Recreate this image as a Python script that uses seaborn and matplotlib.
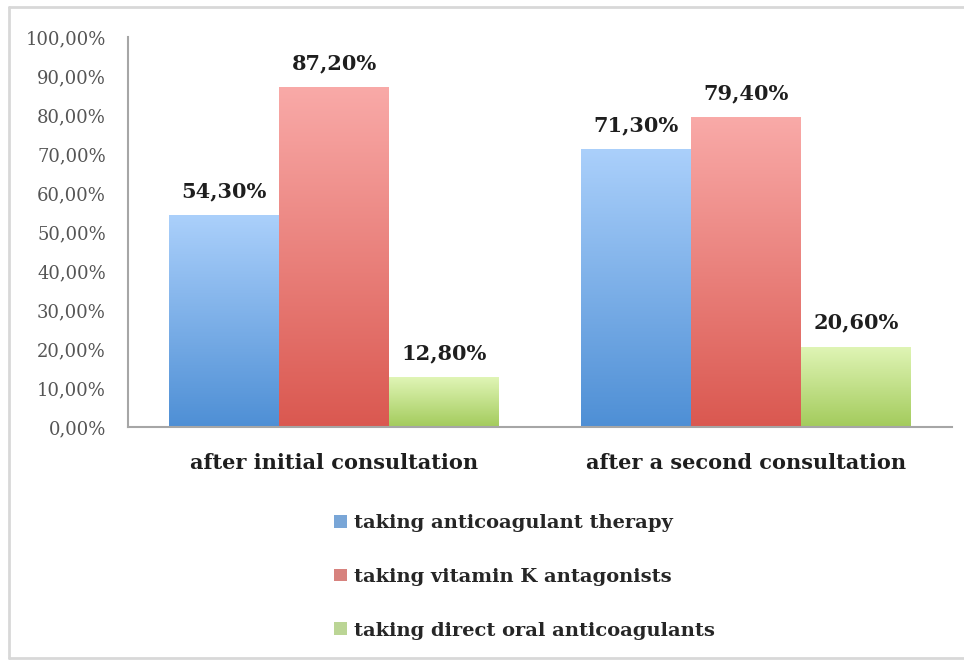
import numpy as np
import pandas as pd
import matplotlib
matplotlib.use("Agg")
import matplotlib.pyplot as plt
from matplotlib.colors import LinearSegmentedColormap
from matplotlib.lines import Line2D
import seaborn as sns

# dati
momenti = ["after initial consultation", "after a second consultation"]
gruppi = ["taking anticoagulant therapy",
          "taking vitamin K antagonists",
          "taking direct oral anticoagulants"]
anticoag = [54.3, 71.3]
vka = [87.2, 79.4]
doac = [12.8, 20.6]

# colori (medio, alto, basso) per i gradienti
colori_medi = ["#6aa5e6", "#e6756f", "#bde08a"]
colori_alto = ["#abd0fb", "#f9aaa8", "#e0f5b6"]
colori_basso = ["#4e8fd5", "#da5850", "#a3cb5c"]

df = pd.DataFrame({
    "momento": momenti * 3,
    "gruppo": [g for g in gruppi for _ in momenti],
    "valore": anticoag + vka + doac,
})

sns.set_theme(style="white")
plt.rcParams["font.family"] = ["DejaVu Serif"]

fig = plt.figure(figsize=(9.64, 6.6), dpi=100)
ax = fig.add_axes([0.1328, 0.353, 0.855, 0.591])

sns.barplot(data=df, x="momento", y="valore", hue="gruppo",
            order=momenti, hue_order=gruppi, palette=colori_medi,
            errorbar=None, linewidth=0, width=0.8, ax=ax)

# riempimento a gradiente verticale dentro ogni barra
grad = np.linspace(0, 1, 256).reshape(-1, 1)
for cont, alto, basso in zip(ax.containers, colori_alto, colori_basso):
    cmap = LinearSegmentedColormap.from_list("g", [basso, alto])
    for barra in cont:
        x0, y0 = barra.get_x(), barra.get_y()
        w, h = barra.get_width(), barra.get_height()
        im = ax.imshow(grad, cmap=cmap, origin="lower", aspect="auto",
                       extent=[x0, x0 + w, y0, y0 + h], zorder=barra.get_zorder() + 0.1)
        im.set_clip_path(barra)
    ax.bar_label(cont, labels=[f"{v:.2f}%".replace(".", ",") for v in cont.datavalues],
                 padding=10, fontsize=15, fontweight="bold", color="#1e1e1e")

ax.set_xlim(-0.5, 1.5)
ax.set_ylim(0, 100)

ax.set_yticks(np.arange(0, 101, 10))
ax.set_yticklabels([f"{v:.2f}%".replace(".", ",") for v in np.arange(0, 101, 10)],
                   fontsize=13, color="#555555")
ax.tick_params(axis="y", length=0, pad=16)
ax.tick_params(axis="x", length=0, pad=19, labelsize=15, labelcolor="#1e1e1e")
for t in ax.get_xticklabels():
    t.set_fontweight("bold")
ax.set_xlabel("")
ax.set_ylabel("")

for lato in ["top", "right"]:
    ax.spines[lato].set_visible(False)
for lato in ["left", "bottom"]:
    ax.spines[lato].set_color("#a6a6a6")
    ax.spines[lato].set_linewidth(1.5)

handles, labels = ax.get_legend_handles_labels()
ax.get_legend().remove()
leg = fig.legend(handles, labels, loc="center", bbox_to_anchor=(0.544, 0.126),
                 frameon=False, ncol=1, handlelength=0.65, handleheight=0.65,
                 handletextpad=0.35, labelspacing=1.85,
                 prop={"family": "DejaVu Serif", "weight": "bold", "size": 14})

# cornice grigia dell'immagine: solo sinistra, sopra e sotto
xs = 9 / 964
ys, yi = 1 - 7 / 660, 2 / 660
for xx, yy in [([xs, 1], [ys, ys]), ([xs, xs], [yi, ys]), ([xs, 1], [yi, yi])]:
    fig.add_artist(Line2D(xx, yy, transform=fig.transFigure,
                          color="#d8d8d8", linewidth=2))

fig.savefig("out.png", dpi=100)
